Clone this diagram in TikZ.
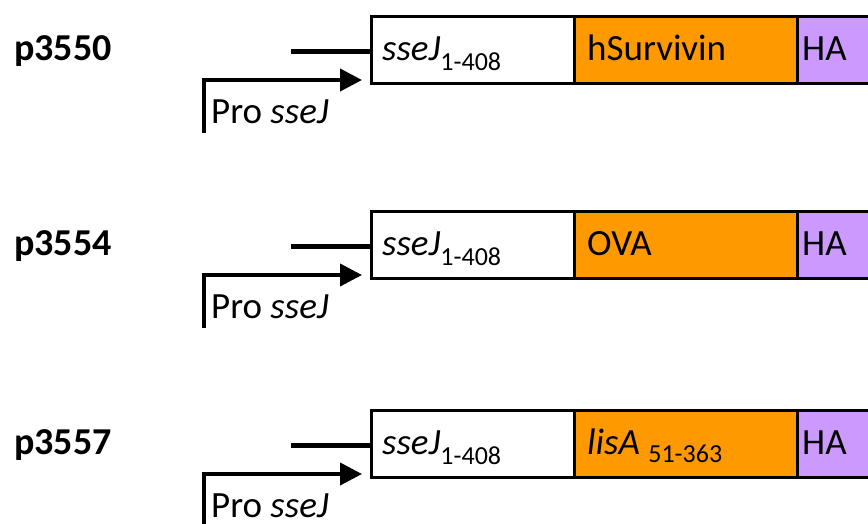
\documentclass[tikz,border=0pt]{standalone}
\usepackage{fontspec}
\setmainfont{Carlito}
\usetikzlibrary{arrows.meta}
\definecolor{geneorange}{RGB}{255,153,0}
\definecolor{hapurple}{RGB}{204,153,255}
\tikzset{
  seg/.style={draw=black, line width=3pt, anchor=north west, minimum height=67pt, inner sep=0pt, outer sep=0pt},
  lbl/.style={anchor=base west, inner sep=0pt, font=\fontsize{37}{40}\selectfont},
  plab/.style={anchor=base west, inner sep=0pt, font=\fontsize{38}{40}\selectfont\bfseries},
  lead/.style={line width=4.3pt},
  prom/.style={line width=4pt, -{Triangle[length=22pt,width=22pt]}},
}
\newcommand{\sseJsub}{{\itshape sseJ}\raisebox{-10pt}{\fontsize{26}{28}\selectfont 1-408}}
\begin{document}
\begin{tikzpicture}[x=1pt,y=-1pt]
\useasboundingbox (0,0) rectangle (868,523);
\clip (0,0) rectangle (868,523);
\foreach \i/\dy/\name/\gene in {1/0/p3550/hSurvivin, 2/195/p3554/OVA, 3/394/p3557/{{\itshape lisA}\ \raisebox{-8pt}{\fontsize{26}{28}\selectfont 51-363}}}{
  \begin{scope}[yshift=-\dy pt]
    % segments
    \node[seg, fill=white, minimum width=203pt] (w\i) at (371,16) {};
    \node[seg, fill=geneorange, minimum width=223pt] (o\i) at (574,16) {};
    \node[seg, fill=hapurple, minimum width=90pt] (h\i) at (797,16) {};
    % texts
    \node[lbl] (tw\i) at (382,60) {\sseJsub};
    \node[lbl] (to\i) at (587,60) {\gene};
    \node[lbl] (th\i) at (802,60) {HA};
    \node[plab] (pl\i) at (14,60) {\name};
    \node[lbl] (pr\i) at (211,123) {Pro {\itshape sseJ}};
    % lead line
    \coordinate (ls\i) at (291,51.5);
    \draw[lead] (ls\i) -- (ls\i -| w\i.west);
    % promoter arrow
    \coordinate (pb\i) at (204,133);
    \coordinate (pt\i) at (362,80);
    \draw[prom] (pb\i) |- (pt\i);
  \end{scope}
}
\end{tikzpicture}
\end{document}
